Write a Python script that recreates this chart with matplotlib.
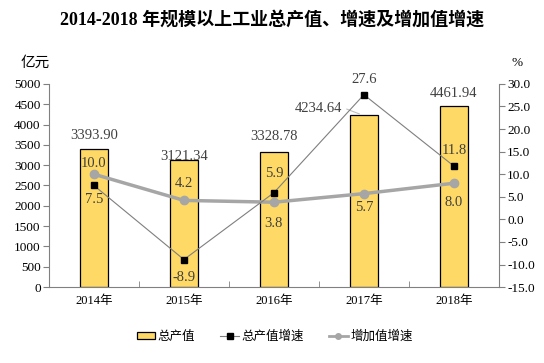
import matplotlib
matplotlib.use('Agg')
import matplotlib.pyplot as plt
from matplotlib.patches import Patch
from matplotlib.lines import Line2D
import numpy as np

plt.rcParams['font.family'] = ['Liberation Serif', 'Noto Sans CJK SC']

years = ['2014年', '2015年', '2016年', '2017年', '2018年']
output_value = [3393.90, 3121.34, 3328.78, 4234.64, 4461.94]
output_growth = [7.5, -8.9, 5.9, 27.6, 11.8]
added_growth = [10.0, 4.2, 3.8, 5.7, 8.0]

x = np.arange(len(years))

fig = plt.figure(figsize=(5.44, 3.63), dpi=100)
ax = fig.add_axes([0.090, 0.209, 0.827, 0.560])
ax2 = ax.twinx()

bars = ax.bar(x, output_value, width=0.31, color='#FFD966', edgecolor='black', linewidth=0.9, zorder=2)
ax.set_xlim(-0.5, 4.5)
ax.set_ylim(0, 5000)
ax.set_yticks(range(0, 5001, 500))
ax.set_xticks(x)
ax.set_xticklabels(years, fontsize=9)
ax.set_xticks(np.arange(-0.5, 4.6, 1), minor=True)
ax.tick_params(axis='x', which='major', length=0, pad=6)
ax.tick_params(axis='x', which='minor', length=4, direction='in', color='#808080')
ax.tick_params(axis='y', labelsize=9.5, length=4, color='#808080', pad=2)

ax2.set_ylim(-15, 30)
ax2.set_yticks(np.arange(-15, 30.1, 5))
ax2.set_yticklabels(['%.1f' % v for v in np.arange(-15, 30.1, 5)], fontsize=9.5)
ax2.tick_params(axis='y', length=4, color='#808080', pad=2)

for a in (ax, ax2):
    a.spines['top'].set_visible(False)
    for s in ('left', 'right', 'bottom'):
        a.spines[s].set_color('#808080')
ax2.spines['left'].set_visible(False)
ax2.spines['bottom'].set_visible(False)
ax.spines['right'].set_visible(False)

ax2.plot(x, added_growth, color='#A6A6A6', linewidth=2.5, marker='o', markersize=6, zorder=3)
ax2.plot(x, output_growth, color='#7F7F7F', linewidth=0.8, marker='s', markersize=4,
         markerfacecolor='black', markeredgecolor='black', zorder=4)

lab_color = '#404040'
fs = 10.5
# bar labels (offsets in points)
bar_offsets = [(0, 10), (0, 3), (0, 11), (-33, 5), (0, 9)]
for xi, v, off in zip(x, output_value, bar_offsets):
    ax.annotate('%.2f' % v, (xi, v), xytext=off, textcoords='offset points',
                ha='center', va='center', fontsize=fs, color=lab_color, zorder=5)
ax.annotate('', (x[3] - 0.02, output_value[3]), xytext=(x[3] - 0.22, output_value[3] + 170),
            arrowprops=dict(arrowstyle='-', color='#BFBFBF', lw=0.8))

og_offsets = [-10, -13, 14, 11, 11]
for xi, v, dy in zip(x, output_growth, og_offsets):
    ax2.annotate('%.1f' % v, (xi, v), xytext=(0, dy), textcoords='offset points',
                 ha='center', va='center', fontsize=fs, color=lab_color, zorder=5)
ag_offsets = [8, 12, -15, -10, -14]
for xi, v, dy in zip(x, added_growth, ag_offsets):
    ax2.annotate('%.1f' % v, (xi, v), xytext=(0, dy), textcoords='offset points',
                 ha='center', va='center', fontsize=fs, color=lab_color, zorder=5)

ax2.set_zorder(ax.get_zorder() + 1)
ax2.patch.set_visible(False)

fig.text(0.5, 0.945, '2014-2018 年规模以上工业总产值、增速及增加值增速', ha='center', va='center',
         fontsize=13, fontweight='bold')
fig.text(0.064, 0.826, '亿元', ha='center', va='center', fontsize=10.5)
fig.text(0.950, 0.826, '%', ha='center', va='center', fontsize=9.5)

handles = [Patch(facecolor='#FFD966', edgecolor='black', linewidth=0.9),
           Line2D([], [], color='#7F7F7F', linewidth=0.8, marker='s', markersize=4,
                  markerfacecolor='black', markeredgecolor='black'),
           Line2D([], [], color='#A6A6A6', linewidth=2, marker='o', markersize=4)]
fig.legend(handles, ['总产值', '总产值增速', '增加值增速'], loc='center', bbox_to_anchor=(0.505, 0.072),
           ncol=3, frameon=False, fontsize=9, handlelength=1.5, handleheight=0.5,
           handletextpad=0.2, columnspacing=2.0)

fig.savefig('out.png', dpi=100)
